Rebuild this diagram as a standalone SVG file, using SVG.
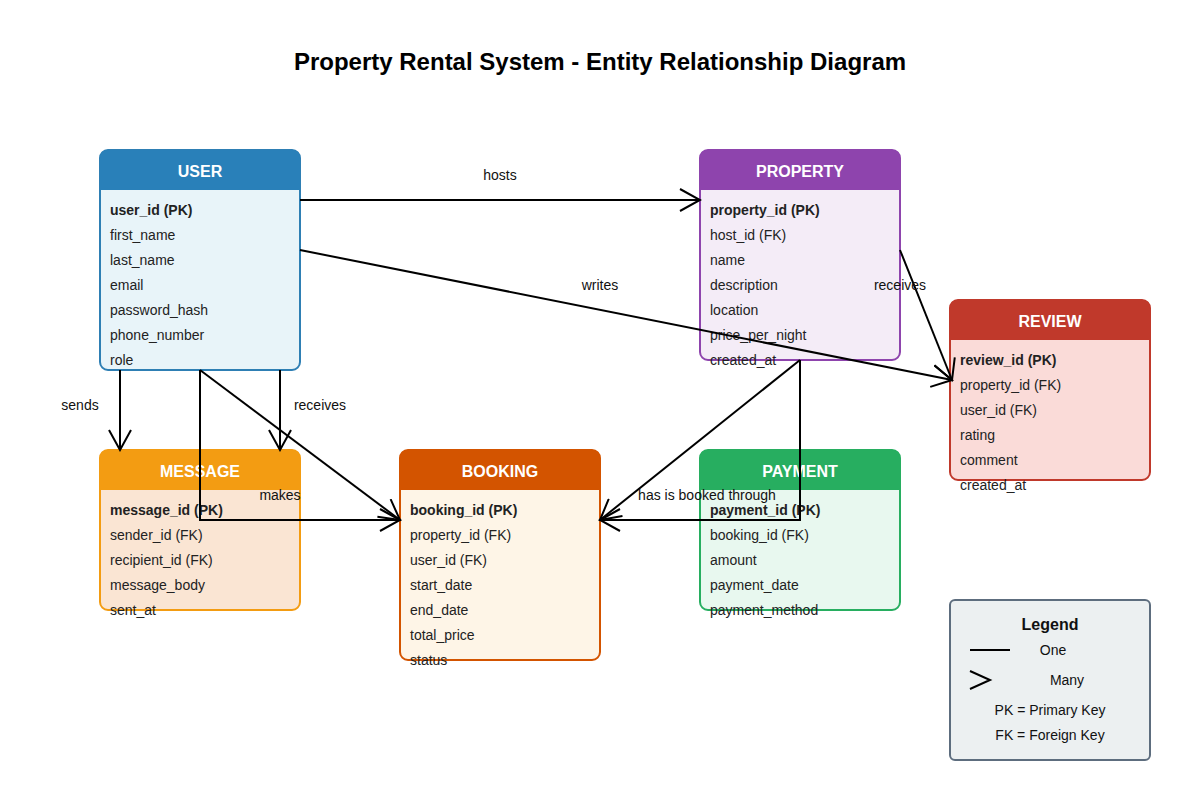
<svg xmlns="http://www.w3.org/2000/svg" width="1200" height="800" viewBox="0 0 1200 800">
<defs>
<marker id="many" markerUnits="userSpaceOnUse" markerWidth="24" markerHeight="24" viewBox="0 0 24 24" refX="22" refY="12" orient="auto">
<path d="M2,1 L22,12 L2,23" fill="none" stroke="#000" stroke-width="2"/>
</marker>
<style>
text{font-family:"Liberation Sans",Arial,sans-serif;}
.title{font-size:24px;font-weight:bold;fill:#000;text-anchor:middle;}
.hdr{font-size:16px;font-weight:bold;fill:#fff;text-anchor:middle;}
.f{font-size:14px;fill:#222;}
.pk{font-weight:bold;}
.lbl{font-size:14px;fill:#111;text-anchor:middle;}
.conn{fill:none;stroke:#000;stroke-width:2;}
.box{stroke-width:2;}
</style>
</defs>
<rect width="1200" height="800" fill="#fff"/>
<text class="title" x="600" y="70">Property Rental System - Entity Relationship Diagram</text>

<g id="user">
<rect class="box" x="100" y="150" width="200" height="220" rx="8" fill="#e8f4f9" stroke="#2e7fb4"/>
<path d="M100,190 V158 Q100,150 108,150 H292 Q300,150 300,158 V190 Z" fill="#2980b9"/>
<text class="hdr" x="200" y="177">USER</text>
<text class="f pk" x="110" y="215">user_id (PK)</text>
<text class="f" x="110" y="240">first_name</text>
<text class="f" x="110" y="265">last_name</text>
<text class="f" x="110" y="290">email</text>
<text class="f" x="110" y="315">password_hash</text>
<text class="f" x="110" y="340">phone_number</text>
<text class="f" x="110" y="365">role</text>
</g>

<g id="property">
<rect class="box" x="700" y="150" width="200" height="210" rx="8" fill="#f4ecf7" stroke="#8e44ad"/>
<path d="M700,190 V158 Q700,150 708,150 H892 Q900,150 900,158 V190 Z" fill="#8e44ad"/>
<text class="hdr" x="800" y="177">PROPERTY</text>
<text class="f pk" x="710" y="215">property_id (PK)</text>
<text class="f" x="710" y="240">host_id (FK)</text>
<text class="f" x="710" y="265">name</text>
<text class="f" x="710" y="290">description</text>
<text class="f" x="710" y="315">location</text>
<text class="f" x="710" y="340">price_per_night</text>
<text class="f" x="710" y="365">created_at</text>
</g>

<g id="review">
<rect class="box" x="950" y="300" width="200" height="180" rx="8" fill="#fadbd8" stroke="#c0392b"/>
<path d="M950,340 V308 Q950,300 958,300 H1142 Q1150,300 1150,308 V340 Z" fill="#c0392b"/>
<text class="hdr" x="1050" y="327">REVIEW</text>
<text class="f pk" x="960" y="365">review_id (PK)</text>
<text class="f" x="960" y="390">property_id (FK)</text>
<text class="f" x="960" y="415">user_id (FK)</text>
<text class="f" x="960" y="440">rating</text>
<text class="f" x="960" y="465">comment</text>
<text class="f" x="960" y="490">created_at</text>
</g>

<g id="message">
<rect class="box" x="100" y="450" width="200" height="160" rx="8" fill="#fae5d3" stroke="#f39c12"/>
<path d="M100,490 V458 Q100,450 108,450 H292 Q300,450 300,458 V490 Z" fill="#f39c12"/>
<text class="hdr" x="200" y="477">MESSAGE</text>
<text class="f pk" x="110" y="515">message_id (PK)</text>
<text class="f" x="110" y="540">sender_id (FK)</text>
<text class="f" x="110" y="565">recipient_id (FK)</text>
<text class="f" x="110" y="590">message_body</text>
<text class="f" x="110" y="615">sent_at</text>
</g>

<g id="booking">
<rect class="box" x="400" y="450" width="200" height="210" rx="8" fill="#fef5e7" stroke="#d35400"/>
<path d="M400,490 V458 Q400,450 408,450 H592 Q600,450 600,458 V490 Z" fill="#d35400"/>
<text class="hdr" x="500" y="477">BOOKING</text>
<text class="f pk" x="410" y="515">booking_id (PK)</text>
<text class="f" x="410" y="540">property_id (FK)</text>
<text class="f" x="410" y="565">user_id (FK)</text>
<text class="f" x="410" y="590">start_date</text>
<text class="f" x="410" y="615">end_date</text>
<text class="f" x="410" y="640">total_price</text>
<text class="f" x="410" y="665">status</text>
</g>

<g id="payment">
<rect class="box" x="700" y="450" width="200" height="160" rx="8" fill="#e8f8ef" stroke="#27ae60"/>
<path d="M700,490 V458 Q700,450 708,450 H892 Q900,450 900,458 V490 Z" fill="#27ae60"/>
<text class="hdr" x="800" y="477">PAYMENT</text>
<text class="f pk" x="710" y="515">payment_id (PK)</text>
<text class="f" x="710" y="540">booking_id (FK)</text>
<text class="f" x="710" y="565">amount</text>
<text class="f" x="710" y="590">payment_date</text>
<text class="f" x="710" y="615">payment_method</text>
</g>

<g id="connectors">
<line class="conn" x1="300" y1="200" x2="700" y2="200" marker-end="url(#many)"/>
<text class="lbl" x="500" y="180">hosts</text>
<line class="conn" x1="300" y1="250" x2="952" y2="380" marker-end="url(#many)"/>
<text class="lbl" x="600" y="290">writes</text>
<line class="conn" x1="900" y1="250" x2="952" y2="380" marker-end="url(#many)"/>
<text class="lbl" x="900" y="290">receives</text>
<line class="conn" x1="120" y1="370" x2="120" y2="450" marker-end="url(#many)"/>
<text class="lbl" x="80" y="410">sends</text>
<line class="conn" x1="280" y1="370" x2="280" y2="450" marker-end="url(#many)"/>
<text class="lbl" x="320" y="410">receives</text>
<path class="conn" d="M200,370 V520 H400" marker-end="url(#many)"/>
<line class="conn" x1="200" y1="370" x2="400" y2="520" marker-end="url(#many)"/>
<text class="lbl" x="280" y="500">makes</text>
<path class="conn" d="M800,360 V520 H600" marker-end="url(#many)"/>
<line class="conn" x1="800" y1="360" x2="600" y2="520" marker-end="url(#many)"/>
<text class="lbl" x="707" y="500">has is booked through</text>
</g>

<g id="legend">
<rect x="950" y="600" width="200" height="160" rx="5" fill="#ecf0f1" stroke="#5d6d7e" stroke-width="2"/>
<text x="1050" y="630" style="font-size:16px;font-weight:bold;text-anchor:middle;fill:#111">Legend</text>
<line x1="970" y1="650" x2="1010" y2="650" stroke="#000" stroke-width="2"/>
<text class="lbl" x="1053" y="655">One</text>
<path d="M970,671 L990,680 L970,689" fill="none" stroke="#000" stroke-width="2"/>
<text class="lbl" x="1067" y="685">Many</text>
<text class="lbl" x="1050" y="715">PK = Primary Key</text>
<text class="lbl" x="1050" y="740">FK = Foreign Key</text>
</g>
</svg>
